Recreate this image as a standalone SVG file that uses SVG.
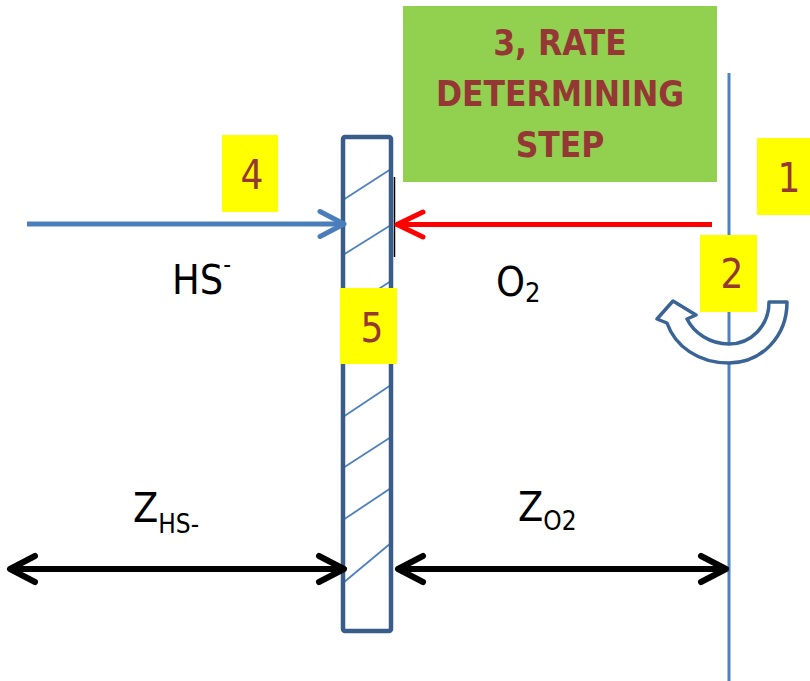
<svg xmlns="http://www.w3.org/2000/svg" width="810" height="681" viewBox="0 0 810 681">
  <style>
    .lbl { font-family: "DejaVu Sans Condensed", "Liberation Sans", sans-serif; fill: #000; }
    .num { font-family: "DejaVu Sans Condensed", "Liberation Sans", sans-serif; font-size: 40px; fill: #953735; text-anchor: middle; }
    .step { font-family: "DejaVu Sans Condensed", "Liberation Sans", sans-serif; font-size: 35px; font-weight: bold; fill: #953735; text-anchor: middle; }
    .ybox { fill: #FFFF00; }
    .hatch { stroke: #4F81BD; stroke-width: 1.8; }
  </style>
  <defs>
    <marker id="chevBlue" markerUnits="userSpaceOnUse" viewBox="-30 -16 34 32" refX="0" refY="0" markerWidth="34" markerHeight="32" orient="auto" overflow="visible">
      <path d="M-24,-12.5 L0,0 L-24,12.5" fill="none" stroke="#4A7EBB" stroke-width="5" stroke-linecap="round" stroke-linejoin="round"/>
    </marker>
    <marker id="chevRed" markerUnits="userSpaceOnUse" viewBox="-30 -16 34 32" refX="0" refY="0" markerWidth="34" markerHeight="32" orient="auto" overflow="visible">
      <path d="M-26,-12.5 L0,0 L-26,12.5" fill="none" stroke="#FF0000" stroke-width="5" stroke-linecap="round" stroke-linejoin="round"/>
    </marker>
    <marker id="chevBlack" markerUnits="userSpaceOnUse" viewBox="-30 -16 34 32" refX="0" refY="0" markerWidth="34" markerHeight="32" orient="auto-start-reverse" overflow="visible">
      <path d="M-25,-13 L0,0 L-25,13" fill="none" stroke="#000" stroke-width="6" stroke-linecap="round" stroke-linejoin="round"/>
    </marker>
  </defs>

  <rect width="810" height="681" fill="#FFFFFF"/>

  <!-- interface vertical line -->
  <g id="interface">
    <line x1="729" y1="73" x2="729" y2="681" stroke="#4F81BD" stroke-width="3"/>
  </g>

  <!-- membrane -->
  <g id="membrane">
    <rect x="343" y="137" width="48" height="494" fill="#FFFFFF"/>
    <line class="hatch" x1="343" y1="200" x2="391" y2="169"/>
    <line class="hatch" x1="343" y1="255" x2="391" y2="225"/>
    <line class="hatch" x1="343" y1="312" x2="391" y2="281"/>
    <line class="hatch" x1="343" y1="364" x2="391" y2="333"/>
    <line class="hatch" x1="343" y1="417" x2="391" y2="385"/>
    <line class="hatch" x1="343" y1="468" x2="391" y2="437"/>
    <line class="hatch" x1="343" y1="520" x2="391" y2="488"/>
    <line class="hatch" x1="343" y1="583" x2="391" y2="543"/>
    <rect x="343" y="137" width="48" height="494" rx="2" fill="none" stroke="#385D8A" stroke-width="4.5"/>
    <line x1="394.5" y1="177" x2="394.5" y2="257" stroke="#000" stroke-width="1.5"/>
  </g>

  <!-- rate determining step -->
  <g id="step3">
    <rect x="403" y="6" width="314" height="176" fill="#92D050"/>
    <text class="step" x="560" y="55">3, RATE</text>
    <text class="step" x="560" y="106">DETERMINING</text>
    <text class="step" x="560" y="157">STEP</text>
  </g>

  <!-- rotation arrow -->
  <g id="rotation">
    <path d="M769,302 L787,302 C787,337 761,363 729,363 C698,363 675,346 667,323 L657,319 L673,301 L696,315 L687,319 C694,333 710,344 729,344 C751,344 769,326 769,302 Z" fill="#FFFFFF" stroke="#3B6496" stroke-width="3.5" stroke-linejoin="round"/>
  </g>

  <!-- connectors -->
  <g id="connectors">
    <line x1="27" y1="224" x2="344" y2="224" stroke="#4A7EBB" stroke-width="5" marker-end="url(#chevBlue)"/>
    <line x1="712" y1="224.5" x2="397" y2="224.5" stroke="#FF0000" stroke-width="5" marker-end="url(#chevRed)"/>
    <line x1="10" y1="569" x2="344" y2="569" stroke="#000" stroke-width="6" marker-start="url(#chevBlack)" marker-end="url(#chevBlack)"/>
    <line x1="398" y1="569" x2="726" y2="569" stroke="#000" stroke-width="6" marker-start="url(#chevBlack)" marker-end="url(#chevBlack)"/>
  </g>

  <!-- numbered boxes -->
  <g id="box1">
    <rect class="ybox" x="757" y="138" width="53" height="77"/>
    <text class="num" x="789" y="192">1</text>
  </g>
  <g id="box2">
    <rect class="ybox" x="700" y="235" width="57" height="77"/>
    <text class="num" x="732" y="288">2</text>
  </g>
  <g id="box4">
    <rect class="ybox" x="222" y="135" width="56" height="77"/>
    <text class="num" x="252" y="189">4</text>
  </g>
  <g id="box5">
    <rect class="ybox" x="340" y="288" width="57" height="76"/>
    <text class="num" x="372" y="342">5</text>
  </g>

  <!-- labels -->
  <g id="labelHS">
    <text class="lbl" x="172" y="294" font-size="41">HS<tspan font-size="24" dy="-21">-</tspan></text>
  </g>
  <g id="labelO2">
    <text class="lbl" x="496" y="296" font-size="41">O<tspan font-size="27" dy="6">2</tspan></text>
  </g>
  <g id="labelZHS">
    <text class="lbl" x="133" y="522" font-size="41">Z<tspan font-size="26" dy="11">HS-</tspan></text>
  </g>
  <g id="labelZO2">
    <text class="lbl" x="518" y="521" font-size="41">Z<tspan font-size="26" dy="9">O2</tspan></text>
  </g>
</svg>
